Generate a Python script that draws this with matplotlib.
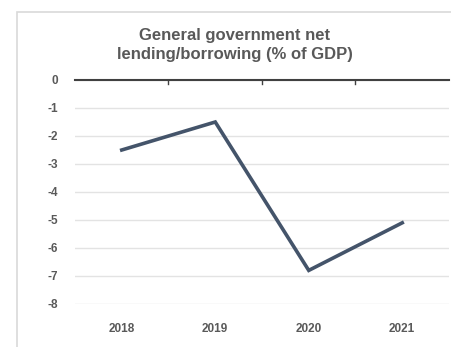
import matplotlib
matplotlib.use("Agg")
import matplotlib.pyplot as plt
from matplotlib.patches import Rectangle

years = ["2018", "2019", "2020", "2021"]
balance = [-2.5, -1.5, -6.8, -5.1]
yticks = [0, -1, -2, -3, -4, -5, -6, -7, -8]

plt.rcParams['font.family'] = ['Liberation Sans', 'DejaVu Sans']

fig = plt.figure(figsize=(4.52, 3.47), dpi=100)
fig.patch.set_facecolor("white")
# outer chart frame
fig.add_artist(Rectangle((17/452, -0.05), 1.2, (347-12)/347 + 0.05,
                         transform=fig.transFigure, fill=False,
                         edgecolor="#d9d9d9", linewidth=1.2))

ax = fig.add_axes([75/452, 1-304/347, 374/452, (304-80)/347])
x = list(range(len(years)))
ax.plot(x, balance, color="#44546A", linewidth=2.6, solid_joinstyle="miter")
ax.set_xlim(-0.5, len(years)-0.5)
ax.set_ylim(-8, 0)
ax.set_yticks(yticks)
ax.set_yticklabels([str(v) for v in yticks])
ax.set_xticks(x)
ax.set_xticklabels(years)
ax.grid(axis="y", color="#e3e3e3", linewidth=1)
ax.set_axisbelow(True)
for s in ["left", "right", "bottom"]:
    ax.spines[s].set_visible(False)
ax.spines["top"].set_color("#404040")
ax.spines["top"].set_linewidth(1.5)
ax.tick_params(axis="both", length=0, labelsize=8.5, labelcolor="#595959")
ax.tick_params(axis="y", pad=12)
ax.tick_params(axis="x", pad=14)
for lab in ax.get_xticklabels() + ax.get_yticklabels():
    lab.set_fontweight("bold")
# boundary tick marks on the zero axis
for b in [0.5, 1.5, 2.5]:
    ax.plot([b, b], [0, -0.15], color="#404040", linewidth=1, clip_on=False)

fig.text(235/452, 1-45/347, "General government net\nlending/borrowing (% of GDP)",
         ha="center", va="center", fontsize=12, fontweight="bold",
         color="#595959", linespacing=1.35)

fig.savefig("out.png", dpi=100)
